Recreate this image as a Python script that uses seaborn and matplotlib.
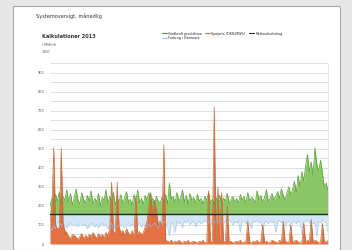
import numpy as np
import pandas as pd
import matplotlib
matplotlib.use("Agg")
import matplotlib.pyplot as plt
from matplotlib.patches import Rectangle
import seaborn as sns

# series (one value per step)
green = [200, 240, 215, 260, 225, 275, 210, 250, 230, 285,
         220, 265, 205, 245, 290, 230, 210, 270, 235, 215,
         255, 225, 280, 210, 240, 220, 265, 200, 245, 230,
         285, 215, 250, 225, 270, 205, 240, 220, 260, 210,
         245, 275, 220, 235, 205, 260, 225, 285, 215, 240,
         210, 255, 230, 270, 220, 240, 205, 250, 225, 215,
         245, 230, 260, 210, 320, 235, 250, 215, 270, 225,
         240, 285, 220, 255, 210, 265, 230, 245, 215, 260,
         225, 240, 210, 250, 230, 270, 215, 235, 205, 245,
         220, 255, 210, 240, 225, 265, 215, 235, 250, 220,
         240, 215, 260, 230, 250, 210, 270, 225, 245, 235,
         215, 280, 230, 255, 220, 245, 285, 225, 240, 265,
         230, 250, 275, 240, 290, 255, 230, 270, 300, 260,
         285, 330, 270, 360, 300, 380, 330, 410, 470, 380,
         430, 360, 505, 420, 380, 440, 375, 300, 320, 280]
blue = [90, 70, 100, 80, 110, 120, 95, 105, 100, 85,
        100, 110, 95, 100, 105, 90, 110, 100, 95, 105,
        80, 95, 110, 100, 90, 105, 85, 100, 110, 95,
        100, 80, 95, 110, 70, 100, 90, 105, 95, 100,
        85, 100, 110, 90, 105, 95, 80, 100, 110, 90,
        100, 95, 85, 105, 90, 100, 110, 95, 80, 100,
        100, 120, 110, 90, 40, 115, 100, 60, 120, 105,
        115, 85, 120, 110, 125, 100, 115, 120, 90, 110,
        120, 105, 115, 125, 110, 120, 100, 115, 120, 110,
        125, 115, 120, 105, 120, 110, 125, 115, 100, 120,
        110, 120, 60, 115, 120, 105, 120, 110, 80, 120,
        115, 125, 110, 120, 70, 115, 120, 105, 120, 110,
        120, 60, 115, 125, 110, 120, 90, 115, 120, 70,
        115, 120, 105, 120, 110, 50, 120, 115, 125, 110,
        120, 105, 115, 40, 120, 110, 125, 115, 110, 60]
orange = [120, 180, 505, 100, 80, 90, 505, 110, 70, 60,
          40, 30, 50, 45, 35, 25, 40, 55, 30, 45,
          35, 50, 40, 60, 45, 30, 55, 40, 50, 35,
          60, 45, 80, 325, 70, 50, 325, 90, 60, 70,
          50, 80, 60, 45, 70, 40, 250, 55, 65, 50,
          60, 90, 120, 200, 270, 150, 230, 180, 100, 120,
          90, 520, 20, 15, 10, 20, 5, 15, 10, 20,
          10, 5, 15, 10, 20, 5, 10, 15, 10, 5,
          15, 10, 20, 5, 10, 280, 15, 10, 720, 20,
          300, 10, 270, 15, 10, 200, 10, 15, 5, 10,
          15, 10, 20, 5, 10, 15, 120, 10, 5, 15,
          10, 20, 5, 15, 100, 10, 15, 5, 10, 20,
          15, 10, 5, 20, 10, 120, 15, 10, 5, 100,
          10, 15, 20, 10, 5, 15, 110, 10, 20, 15,
          130, 10, 20, 15, 5, 10, 110, 15, 10, 20]
baseline = 160
yticks = [0, 100, 200, 300, 400, 500, 600, 700, 800, 900]
legend_labels = ["Vindkraft produktion", "Forbrug i Danmark",
                 "Spotpris (DKK/MWh)", "Nettoudveksling"]

df = pd.DataFrame({"t": np.arange(len(green)), "green": green,
                   "blue": blue, "orange": orange})

sns.set_style("white")
fig = plt.figure(figsize=(3.52, 2.5), dpi=100)
fig.patch.set_facecolor("#e7e7e7")
fig.patches.append(Rectangle((13 / 352, 0), (340 - 13) / 352, 244 / 250,
                             transform=fig.transFigure, facecolor="white",
                             edgecolor="#a8a8a8", lw=0.8, zorder=-5))

ax = fig.add_axes([50 / 352, 6 / 250, 278 / 352, 181 / 250])
ax.set_zorder(2)
ax.set_facecolor("white")

ax.fill_between(df["t"], baseline, df["green"], color="#8ac566", lw=0)
sns.lineplot(data=df, x="t", y="green", ax=ax, color="#55a035", lw=0.5)
ax.fill_between(df["t"], df["blue"], baseline, color="#d3e6f6", lw=0)
sns.lineplot(data=df, x="t", y="blue", ax=ax, color="#a4c2ea", lw=0.4)
ax.fill_between(df["t"], 0, df["orange"], color="#df6330", alpha=0.9, lw=0)
sns.lineplot(data=df, x="t", y="orange", ax=ax, color="#c2703e", lw=0.5)
ax.axhline(baseline, color="#1e2a1e", lw=1.0)
ax.axhline(2, color="#7a7ad0", lw=0.6)

ax.set_xlim(0, len(green) - 1)
ax.set_ylim(0, 950)
ax.set_yticks(yticks)
ax.set_yticks(np.arange(50, 951, 100), minor=True)
ax.set_yticklabels([str(v) for v in yticks], fontsize=2.5, color="#555555")
ax.grid(axis="y", which="both", color="#d9d9d9", lw=0.6)
ax.set_axisbelow(True)
ax.set_xticks([])
ax.set_xlabel("")
ax.set_ylabel("")
ax.tick_params(axis="y", which="both", length=0, pad=4)
for s in ["top", "left", "bottom"]:
    ax.spines[s].set_visible(False)
ax.spines["right"].set_color("#dddddd")
ax.spines["right"].set_linewidth(0.5)

fig.text(36 / 352, 1 - 16 / 250, "Systemoversigt, månedlig", fontsize=3.6,
         color="#333333", va="center")
fig.text(42 / 352, 1 - 36 / 250, "Kalkulationer 2013", fontsize=3.6,
         fontweight="bold", color="#333333", va="center")
fig.text(42 / 352, 1 - 45 / 250, "i MWh/h", fontsize=2.4, color="#555555",
         va="center")
fig.text(42 / 352, 1 - 52 / 250, "1000", fontsize=2.4, color="#555555",
         va="center")

handles = [plt.Line2D([], [], color=c, lw=0.8)
           for c in ["#55a035", "#a4c2ea", "#c2703e", "#1e2a1e"]]
fig.legend(handles, legend_labels, loc="center", ncol=3, frameon=False,
           bbox_to_anchor=(222 / 352, 1 - 36 / 250), fontsize=2.4,
           handlelength=1.5, columnspacing=1.0, handletextpad=0.4,
           labelspacing=0.2)

fig.savefig("out.png", dpi=100, facecolor=fig.get_facecolor())
